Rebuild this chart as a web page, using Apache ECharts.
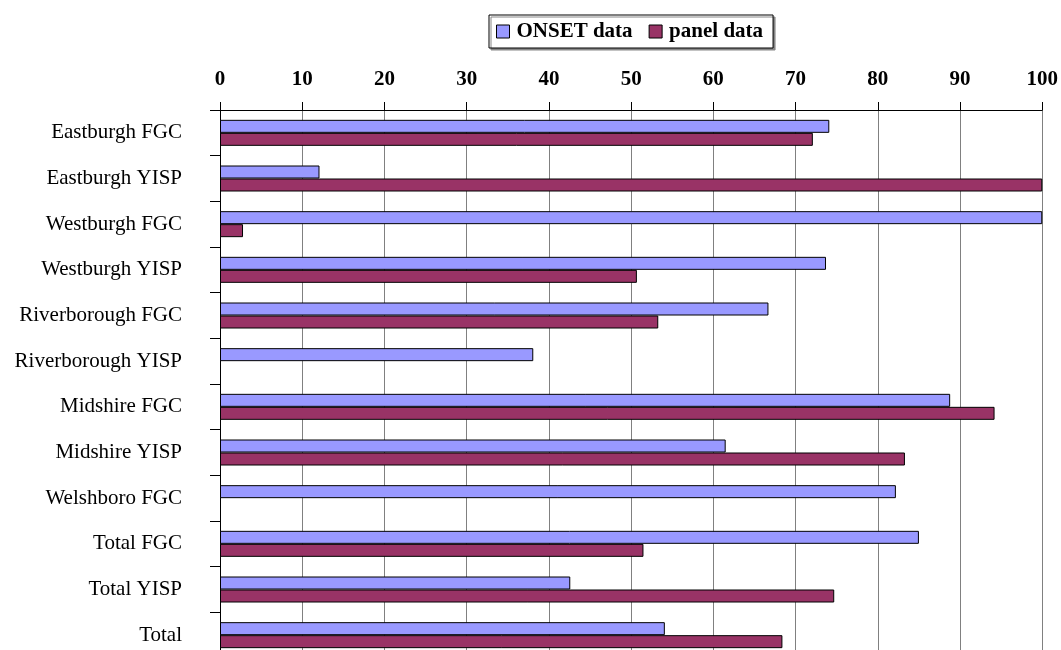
<!DOCTYPE html>
<html>
<head>
<meta charset="utf-8">
<script src="https://cdn.jsdelivr.net/npm/echarts@6/dist/echarts.min.js"></script>
<style>html,body{margin:0;padding:0;background:#fff;overflow:hidden;width:1061px;height:650px}#c{width:1061px;height:670px}</style>
</head>
<body>
<div id="c"></div>
<script>
const categories = ["Eastburgh FGC","Eastburgh YISP","Westburgh FGC","Westburgh YISP","Riverborough FGC","Riverborough YISP","Midshire FGC","Midshire YISP","Welshboro FGC","Total FGC","Total YISP","Total"];
const onsetData = [74.1, 12.1, 100, 73.7, 66.7, 38.1, 88.8, 61.5, 82.2, 85.0, 42.6, 54.1];
const panelData = [72.1, 100, 2.8, 50.7, 53.3, null, 94.2, 83.3, null, 51.5, 74.7, 68.4];
const xTicks = {min: 0, max: 100, interval: 10};

const font = "'Liberation Serif', 'Times New Roman', serif";
const chart = echarts.init(document.getElementById('c'));
chart.setOption({
  animation: false,
  textStyle: {fontFamily: font},
  legend: {
    left: 489, top: 15,
    padding: [6, 10, 6, 7],
    itemGap: 16, itemWidth: 13, itemHeight: 13,
    icon: 'rect',
    borderColor: '#000', borderWidth: 1,
    backgroundColor: '#fff',
    shadowColor: '#888', shadowOffsetX: 2, shadowOffsetY: 2, shadowBlur: 0,
    textStyle: {fontFamily: font, fontSize: 21, fontWeight: 'bold', color: '#000', padding: [0,0,0,2]},
    data: [
      {name: 'ONSET data', itemStyle: {color: '#9999FF', borderColor: '#000', borderWidth: 1}},
      {name: 'panel data', itemStyle: {color: '#993366', borderColor: '#000', borderWidth: 1}}
    ]
  },
  grid: {left: 220, right: 16, top: 110, height: 548, containLabel: false},
  xAxis: {
    type: 'value', position: 'top',
    min: xTicks.min, max: xTicks.max, interval: xTicks.interval,
    axisLine: {show: true, lineStyle: {color: '#000', width: 1}},
    axisTick: {show: true, length: 8, lineStyle: {color: '#000'}},
    axisLabel: {fontFamily: font, fontSize: 21, fontWeight: 'bold', color: '#000', margin: 20},
    splitLine: {show: true, lineStyle: {color: '#808080', width: 1}}
  },
  yAxis: {
    type: 'category', inverse: true, data: categories,
    axisLine: {show: true, lineStyle: {color: '#000', width: 1}},
    axisTick: {show: true, length: 10, inside: false, lineStyle: {color: '#000'}},
    axisLabel: {fontFamily: font, fontSize: 21, color: '#000', margin: 38}
  },
  series: [
    {name: 'ONSET data', type: 'bar', data: onsetData, barWidth: 13, barGap: '0%',
     itemStyle: {color: '#9999FF', borderColor: '#000', borderWidth: 1}},
    {name: 'panel data', type: 'bar', data: panelData, barWidth: 13, barGap: '0%',
     itemStyle: {color: '#993366', borderColor: '#000', borderWidth: 1}}
  ]
});
</script>
</body>
</html>
